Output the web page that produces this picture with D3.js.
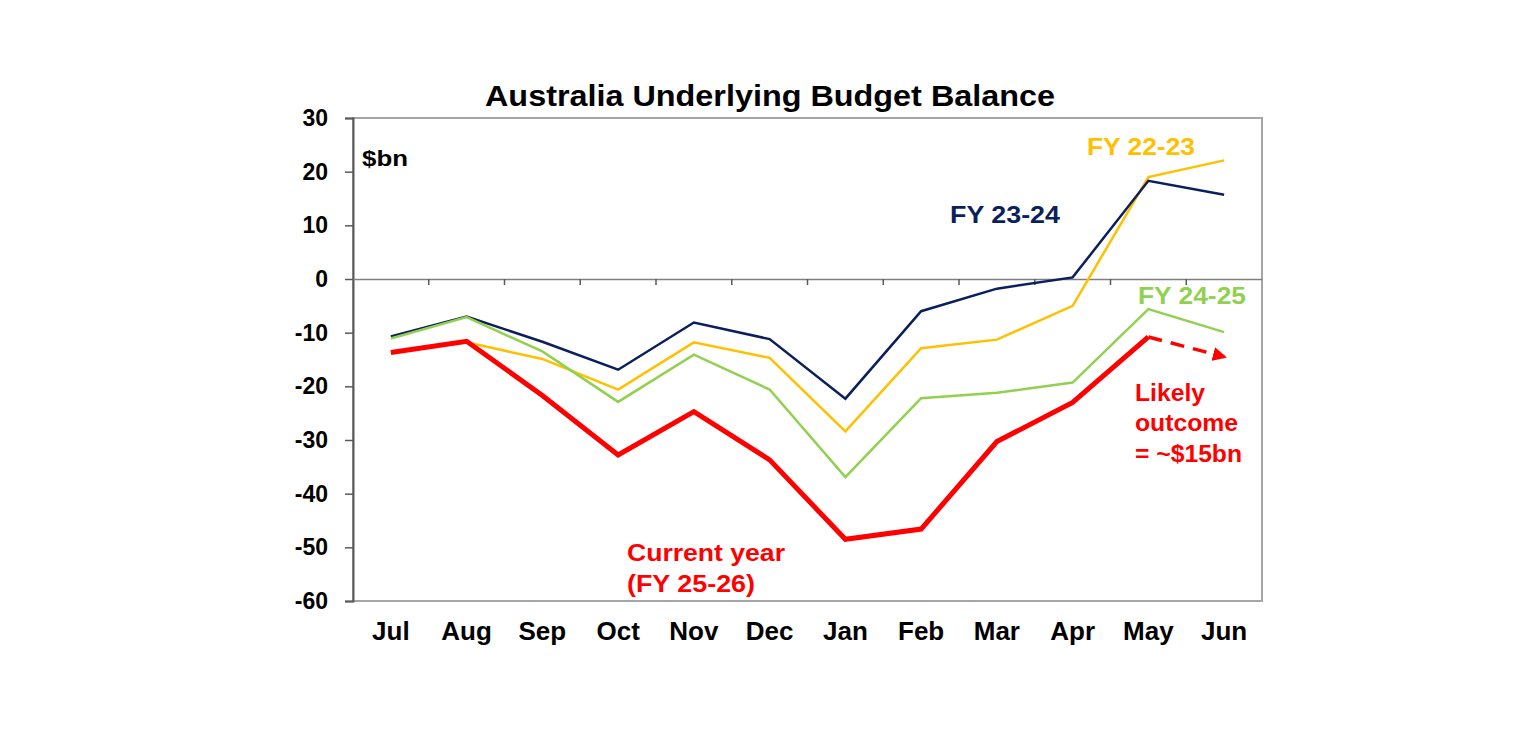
<!DOCTYPE html>
<html><head><meta charset="utf-8">
<script src="https://cdn.jsdelivr.net/npm/d3@7"></script>
<style>body{margin:0;background:#fff;} svg{display:block;font-family:"Liberation Sans",Arial,sans-serif;}</style>
</head><body>
<script>
const months = ["Jul","Aug","Sep","Oct","Nov","Dec","Jan","Feb","Mar","Apr","May","Jun"];
const fy2223 = [-13.8,-11.8,-14.9,-20.6,-11.8,-14.7,-28.4,-12.9,-11.3,-5.0,19.0,22.1];
const fy2324 = [-10.7,-7.0,-11.7,-16.9,-8.1,-11.2,-22.3,-6.0,-1.8,0.3,18.3,15.7];
const fy2425 = [-11.1,-7.1,-13.5,-22.9,-14.1,-20.6,-36.9,-22.2,-21.2,-19.3,-5.6,-9.9];
const fy2526 = [-13.7,-11.6,-21.7,-32.8,-24.7,-33.7,-48.5,-46.6,-30.3,-23.0,-10.8];
const likely = [["May",-10.8],["Jun",-14.5]];
const yTicks = [30,20,10,0,-10,-20,-30,-40,-50,-60];

const W=1536,H=744;
const svg=d3.select("body").append("svg").attr("width",W).attr("height",H);
const L=353,R=1262,T=118,B=601;
const x=d3.scaleBand().domain(months).range([L,R]);
const y=d3.scaleLinear().domain([-60,30]).range([B,T]);
const cx=m=>x(m)+x.bandwidth()/2;

// plot border
svg.append("rect").attr("x",L).attr("y",T).attr("width",R-L).attr("height",B-T)
  .attr("fill","none").attr("stroke","#a6a6a6").attr("stroke-width",2);

// y axis
const ya=svg.append("g").attr("transform",`translate(${L},0)`)
  .call(d3.axisLeft(y).tickValues(yTicks).tickSize(8).tickPadding(17).tickFormat(d=>String(d)));
ya.select(".domain").attr("stroke","#595959").attr("stroke-width",2);
ya.selectAll(".tick line").attr("stroke","#595959").attr("stroke-width",1.5);
ya.selectAll("text").attr("font-size",23).attr("font-weight","bold").attr("fill","#000")
  .attr("font-family","'Liberation Sans',Arial,sans-serif");

// zero line with category ticks
const xa=svg.append("g").attr("transform",`translate(0,${y(0)})`)
  .call(d3.axisBottom(x).tickSize(0).tickFormat(""));
xa.select(".domain").attr("stroke","#7f7f7f").attr("stroke-width",1.5);
xa.selectAll(".tick").remove();
svg.append("g").selectAll("line").data(months.slice(1)).join("line")
  .attr("x1",d=>x(d)).attr("x2",d=>x(d)).attr("y1",y(0)).attr("y2",y(0)+6)
  .attr("stroke","#595959").attr("stroke-width",1.5);

// month labels
svg.append("g").selectAll("text").data(months).join("text")
  .attr("x",d=>cx(d)).attr("y",640).attr("text-anchor","middle")
  .attr("font-size",26).attr("font-weight","bold").attr("fill","#000").text(d=>d);

const line=d3.line().x((d,i)=>cx(months[i])).y(d=>y(d));
const series=[
  {v:fy2223,c:"#FFC000",w:2.5},
  {v:fy2324,c:"#0B1F5C",w:2.5},
  {v:fy2425,c:"#92D050",w:2.5},
  {v:fy2526,c:"#FF0000",w:5}
];
series.forEach(s=>{
  svg.append("path").datum(s.v).attr("d",line).attr("fill","none")
    .attr("stroke",s.c).attr("stroke-width",s.w).attr("stroke-linejoin","miter");
});

// dashed projection with arrow
svg.append("defs").append("marker").attr("id","arr").attr("viewBox","0 0 10 10")
  .attr("refX",8).attr("refY",5).attr("markerWidth",4).attr("markerHeight",4).attr("orient","auto")
  .append("path").attr("d","M0,0 L10,5 L0,10 z").attr("fill","#FF0000");
svg.append("path").datum(likely)
  .attr("d",d3.line().x(d=>cx(d[0])).y(d=>y(d[1])))
  .attr("fill","none").attr("stroke","#FF0000").attr("stroke-width",3.5)
  .attr("stroke-dasharray","14,9").attr("marker-end","url(#arr)");

const ann=(t,xx,yy,c,fs,w)=>svg.append("text").attr("x",xx).attr("y",yy).attr("fill",c)
  .attr("font-size",fs).attr("font-weight","bold").attr("textLength",w)
  .attr("lengthAdjust","spacingAndGlyphs").text(t);
// title
ann("Australia Underlying Budget Balance",485,106,"#000",29,570);
ann("$bn",362,166,"#000",22,46);
ann("FY 23-24",950,223,"#0B1F5C",23,110);
ann("FY 22-23",1087,155,"#FFC000",23,108);
ann("FY 24-25",1138,304,"#92D050",23,108);
ann("Current year",627,561,"#FF0000",24,158);
ann("(FY 25-26)",627,592,"#FF0000",24,128);
ann("Likely",1135,401,"#FF0000",24,70);
ann("outcome",1135,431,"#FF0000",24,103);
ann("= ~$15bn",1135,462,"#FF0000",24,107);
</script>
</body></html>
